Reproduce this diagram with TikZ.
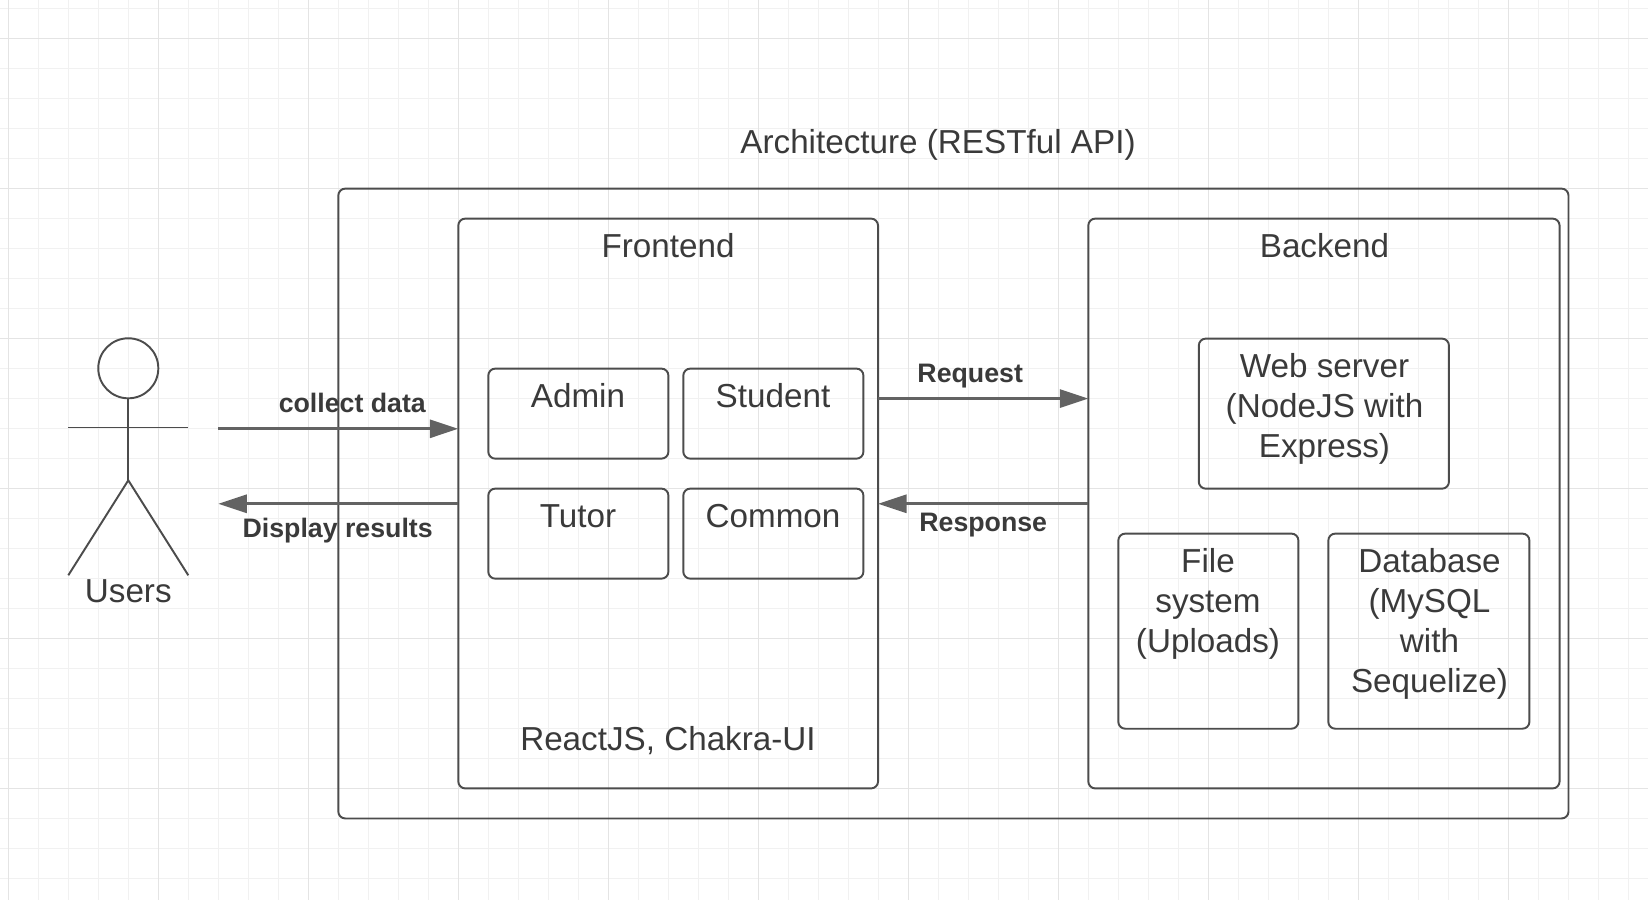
\documentclass[tikz,border=0pt]{standalone}
\usepackage{fontspec}
\setmainfont{Liberation Sans}
\usetikzlibrary{arrows.meta,positioning}
\definecolor{inktext}{HTML}{3A3A3A}
\definecolor{inkline}{HTML}{4C4C4C}
\definecolor{inkarrow}{HTML}{636363}
\definecolor{gridminor}{HTML}{F1F1F1}
\definecolor{gridmajor}{HTML}{E4E4E4}
\tikzset{
  box/.style={draw=inkline,line width=0.55pt,rounded corners=0.7mm,anchor=north west,inner sep=0pt,outer sep=0pt},
  tag/.style={text=inktext,font=\fontsize{9.45}{11.38}\selectfont,align=center,inner sep=0pt},
  msg/.style={text=inktext,font=\fontsize{7.6}{9}\selectfont\bfseries,inner sep=0pt},
  flow/.style={draw=inkarrow,line width=0.85pt,-{Triangle[length=2.85mm,width=1.8mm]}},
  limb/.style={draw=inkline,line width=0.55pt}
}
\begin{document}
\begin{tikzpicture}[x=0.01cm,y=-0.01cm]
      \useasboundingbox (0,0) rectangle (1648,900);
      \foreach \x in {8.3,38.3,...,1648} \draw[gridminor,line width=0.35pt] (\x,0) -- (\x,900);
      \foreach \y in {8.3,38.3,...,900} \draw[gridminor,line width=0.35pt] (0,\y) -- (1648,\y);
      \foreach \x in {8.3,158.3,...,1648} \draw[gridmajor,line width=0.35pt] (\x,0) -- (\x,900);
      \foreach \y in {38.3,188.3,...,900} \draw[gridmajor,line width=0.35pt] (0,\y) -- (1648,\y);

      \node[box,minimum width=12.295cm,minimum height=6.295cm] (architecture) at (338.3,188.6) {};
      \node[box,minimum width=4.195cm,minimum height=5.695cm] (frontend) at (458.3,218.6) {};
      \node[box,minimum width=4.71cm,minimum height=5.695cm] (backend) at (1088.3,218.6) {};

      \node[box,minimum width=1.8cm,minimum height=0.9cm] (admin) at (488.3,368.6) {};
      \node[box,minimum width=1.8cm,minimum height=0.9cm] (student) at (683.3,368.6) {};
      \node[box,minimum width=1.8cm,minimum height=0.9cm] (tutor) at (488.3,488.6) {};
      \node[box,minimum width=1.8cm,minimum height=0.9cm] (common) at (683.3,488.6) {};

      \node[box,minimum width=2.5cm,minimum height=1.5cm] (webserver) at (1198.8,338.6) {};
      \node[box,minimum width=1.8cm,minimum height=1.95cm] (filesystem) at (1118.3,533.6) {};
      \node[box,minimum width=2.01cm,minimum height=1.95cm] (database) at (1328.3,533.6) {};

      \node[tag] (architecturetag) at (938,145) {Architecture (RESTful API)};
      \node[tag] (frontendtag) at (668,246) {Frontend};
      \node[tag] (backendtag) at (1324.5,246) {Backend};
      \node[tag] (admintag) at (578,396) {Admin};
      \node[tag] (studenttag) at (773,396) {Student};
      \node[tag] (tutortag) at (578,516) {Tutor};
      \node[tag] (commontag) at (773,516) {Common};
      \node[tag] (stacktag) at (668,741) {ReactJS, Chakra-UI};
      \node[tag,anchor=north] (webservertag) at (1324.5,353) {Web server\\(NodeJS with\\Express)};
      \node[tag,anchor=north] (filesystemtag) at (1208,548) {File\\system\\(Uploads)};
      \node[tag,anchor=north] (databasetag) at (1429.5,548) {Database\\(MySQL\\with\\Sequelize)};

      \node[circle,draw=inkline,line width=0.55pt,minimum size=0.6cm,inner sep=0pt,outer sep=0pt] (head) at (128.3,368.3) {};
      \coordinate (hip) at (128.3,480.3);
      \coordinate (handleft) at (68.3,427.5);
      \coordinate (handright) at (188.3,427.5);
      \coordinate (footleft) at (68.3,575.3);
      \coordinate (footright) at (188.3,575.3);
      \draw[limb] (head.south) -- (hip);
      \draw[limb] (handleft) -- (handright);
      \draw[limb] (footleft) -- (hip) -- (footright);
      \node[tag] (users) at (128.3,591) {Users};

      \coordinate (collectrow) at (0,428.8);
      \coordinate (displayrow) at (0,503.8);
      \coordinate (requestrow) at (0,398.6);
      \coordinate (userleft) at (218.3,428.8);
      \coordinate (userright) at (218.3,503.8);
      \draw[flow] (userleft) -- (collectrow -| frontend.west);
      \draw[flow] (displayrow -| frontend.west) -- (userright);
      \draw[flow] (requestrow -| frontend.east) -- (requestrow -| backend.west);
      \draw[flow] (displayrow -| backend.west) -- (displayrow -| frontend.east);

      \node[msg] (collecttag) at (352.3,403) {collect data};
      \node[msg] (displaytag) at (337.7,531) {Display results};
      \node[msg] (requesttag) at (970.2,376) {Request};
      \node[msg] (responsetag) at (983.2,525) {Response};
    \end{tikzpicture}
\end{document}
